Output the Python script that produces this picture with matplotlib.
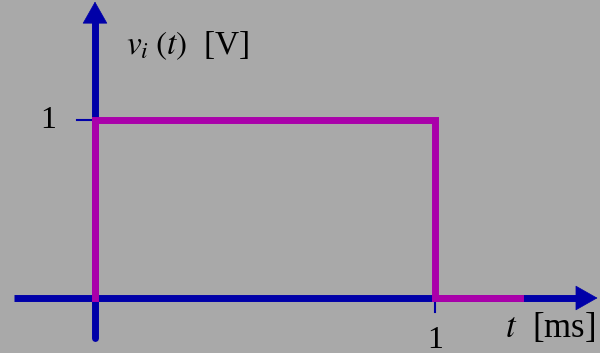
"""Rectangular pulse v_i(t) of 1 V lasting 1 ms."""
import matplotlib

matplotlib.use("Agg")
from matplotlib import pyplot as plt

plt.rcParams["mathtext.fontset"] = "stix"
plt.rcParams["font.family"] = ["Liberation Serif", "DejaVu Serif"]

# pulse data
t_ms = [0, 0, 1, 1, 1.25]
v_volt = [0, 1, 1, 0, 0]

x_ticks = [1]
y_ticks = [1]

BG = "#a9a9a9"
BLUE = "#0000a8"
MAGENTA = "#aa00aa"

fig = plt.figure(figsize=(6.0, 3.53), dpi=100, facecolor=BG)
ax = fig.add_axes([0, 0, 1, 1])
ax.set_facecolor(BG)
ax.set_xlim(-95 / 340, 505 / 340)
ax.set_ylim(-55 / 178, 298 / 178)
ax.axis("off")

# axes lines
x_end, y_end = 1.478, 1.665
ax.plot([-0.238, x_end - 0.04], [0, 0], color=BLUE, lw=5, solid_capstyle="butt", zorder=2)
ax.plot([0, 0], [-0.225, y_end - 0.08], color=BLUE, lw=5, solid_capstyle="round", zorder=2)

# sharp arrow heads
head = dict(arrowstyle="-|>,head_length=15,head_width=8.5", color=BLUE,
            lw=0.5, shrinkA=0, shrinkB=0, mutation_scale=1)
ax.annotate("", xy=(x_end, 0), xytext=(x_end - 0.1, 0), arrowprops=head, zorder=3)
ax.annotate("", xy=(0, y_end), xytext=(0, y_end - 0.2), arrowprops=head, zorder=3)

# ticks
for xt in x_ticks:
    ax.plot([xt, xt], [0, -0.08], color=BLUE, lw=1.5)
    ax.text(xt, -0.236, f"{xt}", ha="center", va="center", fontsize=23)
for yt in y_ticks:
    ax.plot([-0.053, 0], [yt, yt], color=BLUE, lw=1.5)
    ax.text(-0.115, yt, f"{yt}", ha="right", va="center", fontsize=23)

# pulse
ax.plot(t_ms, v_volt, color=MAGENTA, lw=5, solid_joinstyle="miter", zorder=5)

# labels
ax.text(0.092, 1.42, r"$v_i\;(t)$  [V]", fontsize=24, ha="left", va="center")
ax.text(1.205, -0.17, r"$t$  [ms]", fontsize=25, ha="left", va="center")

fig.savefig("out.png", dpi=100, facecolor=BG)
